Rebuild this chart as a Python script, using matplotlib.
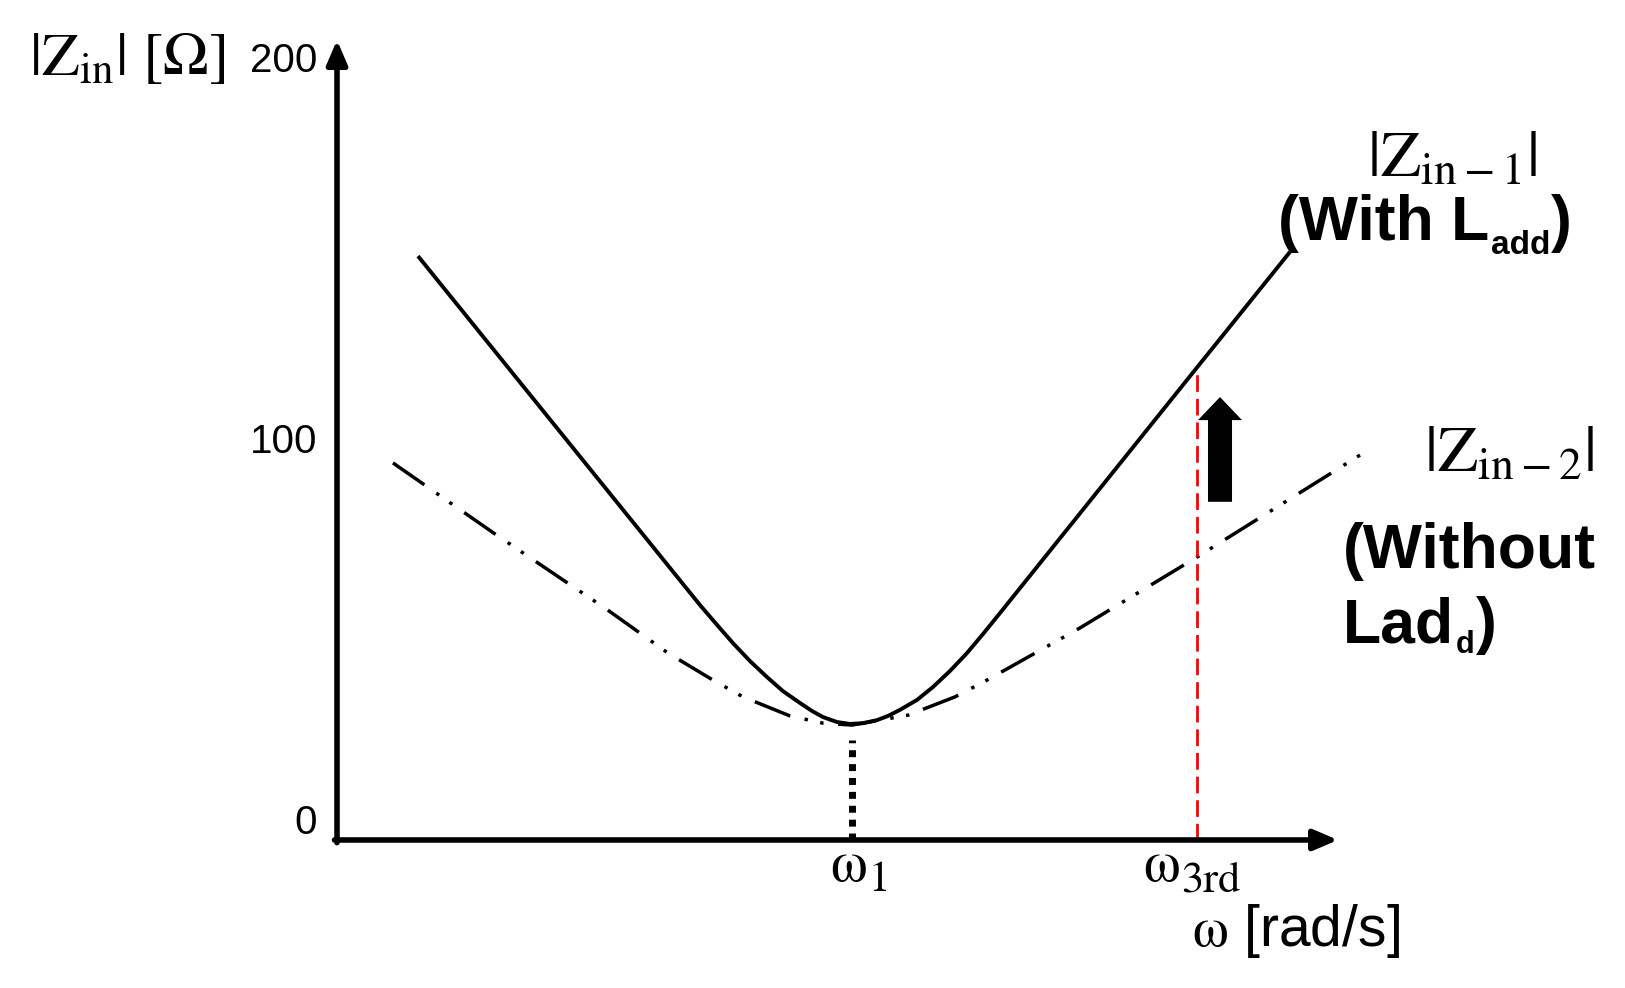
import matplotlib.pyplot as plt

# Courbe |Z_in-1| (avec L_add)
w_with = [0.81, 3.63, 3.80, 3.96, 4.13, 4.30, 4.46, 4.63, 4.75, 4.86, 5.00, 5.13, 5.26, 5.40,
          5.51, 5.63, 5.80, 5.96, 6.13, 6.30, 6.46, 6.63, 8.58, 9.53]
z_with = [148.8, 57.2, 52.0, 47.2, 42.5, 38.3, 34.6, 31.5, 29.4, 27.8, 26.5, 26.0, 26.2, 27.0,
          28.1, 29.7, 32.3, 35.7, 39.9, 44.6, 49.6, 55.1, 118.9, 149.9]

# Courbe |Z_in-2| (sans L_add)
w_without = [0.56, 1.55, 2.26, 2.68, 3.31, 3.76, 4.06, 4.53, 4.86, 5.15, 5.71, 6.18, 6.50, 7.43, 8.60, 10.33]
z_without = [94.5, 76.4, 63.8, 56.4, 44.6, 37.5, 33.1, 28.1, 26.2, 25.7, 28.3, 33.1, 37.5, 51.2, 69.8, 98.2]

# Repères sur l'axe des fréquences
omega_1 = 5.15
omega_3rd = 8.6
z_at_3rd = 118.5
z_arrow = [84.3, 111.8]

y_ticks = [0, 100, 200]
y_tick_labels = ["0", "100", "200"]

x_axis_end = 10.01
y_axis_end = 205.5
axis_level = -4.46

plt.rcParams['font.family'] = ['Liberation Sans', 'DejaVu Sans']
plt.rcParams['mathtext.fontset'] = 'stix'

fig = plt.figure(figsize=(16.25, 9.88), dpi=100)
ax = fig.add_axes([0, 0, 1, 1])
ax.set_xlim(-3.37, 12.88)
ax.set_ylim(-43.31, 216.01)
ax.axis('off')

# Axes avec flèches
axis_style = dict(arrowstyle='-|>,head_length=1.45,head_width=0.62', mutation_scale=10,
                  lw=4, color='black', shrinkA=0, shrinkB=0)
ax.annotate('', xy=(x_axis_end, axis_level), xytext=(-0.025, axis_level), arrowprops=axis_style)
ax.annotate('', xy=(0, y_axis_end), xytext=(0, axis_level - 0.7), arrowprops=axis_style)

for v, lab in zip(y_ticks, y_tick_labels):
    ax.text(-0.2, v, lab, fontsize=29, ha='right', va='center')

# Les deux courbes
ax.plot(w_with, z_with, color='black', lw=2.8, solid_capstyle='butt',
        solid_joinstyle='round', clip_on=False)
ax.plot(w_without, z_without, color='black', lw=2.5,
        linestyle=(0, (11, 4.2, 1, 3.6, 1, 4.2)), dash_capstyle='butt', clip_on=False)

# Lignes verticales
ax.plot([omega_1, omega_1], [axis_level, 21.8], color='black', lw=5,
        linestyle=(0, (1, 1)), dash_capstyle='butt')
ax.plot([omega_3rd, omega_3rd], [axis_level, z_at_3rd], color='red', lw=2,
        linestyle=(0, (6, 2.5)), dash_capstyle='butt')

# Grosse flèche noire
ax.annotate('', xy=(8.83, z_arrow[1]), xytext=(8.83, z_arrow[0]),
            arrowprops=dict(arrowstyle='simple,head_width=1.83,head_length=0.96,tail_width=1.0',
                            mutation_scale=17.3, lw=0, color='black', shrinkA=0, shrinkB=0))


def with_sub(x, y, main, sub, size, sub_size, drop, tail='', **kw):
    t1 = ax.text(x, y, main, fontsize=size, ha='left', va='baseline', **kw)
    t2 = ax.annotate(sub, xy=(1, y), xycoords=(t1, 'data'), xytext=(1, -drop),
                     textcoords='offset points', fontsize=sub_size,
                     ha='left', va='baseline', **kw)
    if tail:
        ax.annotate(tail, xy=(1, y), xycoords=(t2, 'data'), xytext=(1, 0),
                    textcoords='offset points', fontsize=size,
                    ha='left', va='baseline', **kw)


# Textes
ax.text(-3.08, 196.3, r'$|\mathrm{Z}_{\mathrm{in}}|\ [\mathrm{\Omega}]$', fontsize=44,
        ha='left', va='baseline')
ax.text(11.15, 169.8, r'$|\mathrm{Z}_{\mathrm{in-1}}|$', fontsize=47, ha='center', va='baseline')
with_sub(9.41, 152.9, '(With L', 'add', 45, 24, 9.7, ')', fontweight='bold')
ax.text(11.72, 92.2, r'$|\mathrm{Z}_{\mathrm{in-2}}|$', fontsize=47, ha='center', va='baseline')
ax.text(10.06, 66.9, '(Without', fontsize=45, fontweight='bold', ha='left', va='baseline')
with_sub(10.06, 47.4, 'Lad', 'd', 45, 22, 7.5, ')', fontweight='bold')

with_sub(4.93, -15.3, 'ω', '1', 42, 31, 7, family='STIXGeneral')
with_sub(8.06, -15.3, 'ω', '3rd', 42, 32, 7, family='STIXGeneral')
ax.text(8.55, -32.4, r'$\mathrm{\omega}$ [rad/s]', fontsize=41, ha='left', va='baseline')

fig.savefig('out.png', dpi=100)
